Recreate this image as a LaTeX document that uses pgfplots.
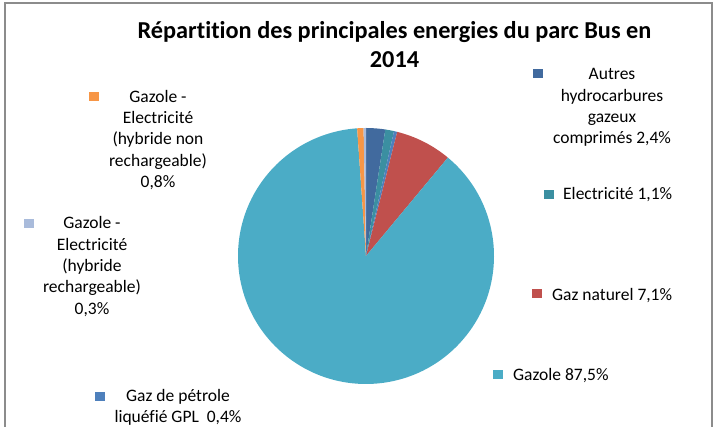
\documentclass[border=0pt]{standalone}
\usepackage{pgfplots}
\pgfplotsset{compat=1.18}
\usepackage{fontspec}
\setmainfont{Carlito}[Ligatures=NoCommon]
\definecolor{cAutres}{HTML}{416A9E}
\definecolor{cElec}{HTML}{3B8FA1}
\definecolor{cGPL}{HTML}{4E80BC}
\definecolor{cGN}{HTML}{C0504D}
\definecolor{cGazole}{HTML}{4BACC6}
\definecolor{cHNR}{HTML}{F79646}
\definecolor{cHR}{HTML}{A9BBDB}
\definecolor{framecol}{HTML}{8C8C8C}
\newcommand{\lab}{\fontsize{17.5}{21.3}\selectfont}
\newcommand{\sq}[1]{\textcolor{#1}{\rule{10pt}{9pt}}}
\begin{document}
\begin{tikzpicture}
\begin{axis}[x=1pt,y=1pt,xmin=0,xmax=715,ymin=0,ymax=427,hide axis,clip=false]
\path (axis cs:0,0) rectangle (axis cs:715,427);
\draw[framecol, line width=1.2pt] (axis cs:5,0) -- (axis cs:5,424) -- (axis cs:712,424) -- (axis cs:712,0);
% pie slices, clockwise from 12 o'clock
\gdef\cumul{0}
\foreach \v/\col in {2.4/cAutres,1.1/cElec,0.4/cGPL,7.1/cGN,87.5/cGazole,0.8/cHNR,0.3/cHR}{
  \pgfmathsetmacro{\a}{90-\cumul/99.6*360}
  \pgfmathsetmacro{\b}{90-(\cumul+\v)/99.6*360}
  \edef\temp{\noexpand\fill[\col] (axis cs:366,171) -- ++(\a:128pt) arc[start angle=\a, end angle=\b, radius=128pt] -- cycle;}
  \temp
  \pgfmathsetmacro{\n}{\cumul+\v}
  \xdef\cumul{\n}
}
% title
\node[anchor=base, inner sep=0, font=\bfseries\fontsize{24.3}{29}\selectfont] at (axis cs:394.5,388)
  {Répartition des principales energies du parc Bus en};
\node[anchor=base, inner sep=0, font=\bfseries\fontsize{24.3}{29}\selectfont] at (axis cs:394.5,359) {2014};
% labels
\node[inner sep=0] at (axis cs:538,353) {\sq{cAutres}};
\node[align=center, inner sep=0, font=\lab] at (axis cs:612,319.5) {Autres\\hydrocarbures\\gazeux\\comprimés 2,4\%};
\node[inner sep=0] at (axis cs:549,232) {\sq{cElec}};
\node[anchor=west, inner sep=0, font=\lab] at (axis cs:563,232) {Electricité 1,1\%};
\node[inner sep=0] at (axis cs:537,133) {\sq{cGN}};
\node[anchor=west, inner sep=0, font=\lab] at (axis cs:552,131) {Gaz naturel 7,1\%};
\node[inner sep=0] at (axis cs:498,52.5) {\sq{cGazole}};
\node[anchor=west, inner sep=0, font=\lab] at (axis cs:513,51) {Gazole 87,5\%};
\node[inner sep=0] at (axis cs:100,30.5) {\sq{cGPL}};
\node[align=center, inner sep=0, font=\lab] at (axis cs:178,19.5) {Gaz de pétrole\\liquéfié GPL\ \ 0,4\%};
\node[inner sep=0] at (axis cs:29,203.5) {\sq{cHR}};
\node[align=center, inner sep=0, font=\lab] at (axis cs:92,160.5) {Gazole -\\Electricité\\(hybride\\rechargeable)\\0,3\%};
\node[inner sep=0] at (axis cs:94,330.5) {\sq{cHNR}};
\node[align=center, inner sep=0, font=\lab] at (axis cs:158,287) {Gazole -\\Electricité\\(hybride non\\rechargeable)\\0,8\%};
\end{axis}
\end{tikzpicture}
\end{document}
